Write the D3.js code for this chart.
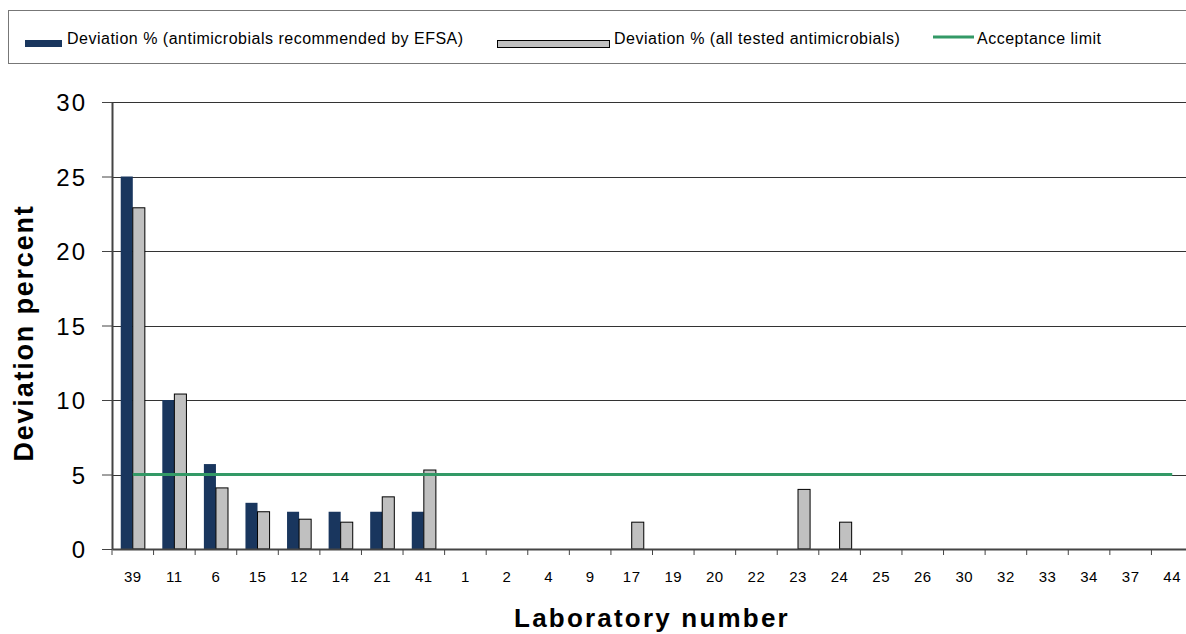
<!DOCTYPE html>
<html><head><meta charset="utf-8">
<script src="https://cdn.jsdelivr.net/npm/d3@7"></script>
<style>body{margin:0;background:#fff}svg{display:block;font-family:"Liberation Sans",Arial,sans-serif}</style>
</head><body><svg id="c" width="1186" height="634"></svg>
<script>
const labs = ["39","11","6","15","12","14","21","41","1","2","4","9","17","19","20","22","23","24","25","26","30","32","33","34","37","44"];
const efsa = [25,10,5.7,3.1,2.5,2.5,2.5,2.5,0,0,0,0,0,0,0,0,0,0,0,0,0,0,0,0,0,0];
const allTested = [22.9,10.4,4.1,2.5,2.0,1.8,3.5,5.3,0,0,0,0,1.8,0,0,0,4.0,1.8,0,0,0,0,0,0,0,0];
const limit = 5;
const yTicks = [0,5,10,15,20,25,30];
const seriesNames = ["Deviation % (antimicrobials recommended by EFSA)","Deviation % (all tested antimicrobials)","Acceptance limit"];
const colors = {efsa:"#19365e", all:"#c0c0c0", line:"#339966"};

const svg = d3.select("#c");
const L = 112, R = 1193, T = 102, B = 549;
const x = d3.scaleBand().domain(labs).range([L, R]).paddingInner(0).paddingOuter(0);
const y = d3.scaleLinear().domain([0,30]).range([B, T]);
const bw = x.bandwidth()*0.29;

// gridlines
svg.append("g").selectAll("line").data(yTicks.filter(d=>d>0)).join("line")
  .attr("x1", L).attr("x2", R).attr("y1", d=>Math.round(y(d))+0.5).attr("y2", d=>Math.round(y(d))+0.5)
  .attr("stroke", "#333").attr("stroke-width", 1);

// bars
const g = svg.append("g");
labs.forEach((lab,i)=>{
  const c = x(lab) + x.bandwidth()/2;
  if (efsa[i] > 0) g.append("rect").attr("x", c-bw).attr("width", bw)
    .attr("y", y(efsa[i])).attr("height", y(0)-y(efsa[i])).attr("fill", colors.efsa);
  if (allTested[i] > 0) g.append("rect").attr("x", c).attr("width", bw)
    .attr("y", y(allTested[i])).attr("height", y(0)-y(allTested[i])).attr("fill", colors.all)
    .attr("stroke", "#000").attr("stroke-width", 1);
});

// acceptance line
const line = d3.line().x(d=>x(d)+x.bandwidth()/2).y(()=>y(limit));
svg.append("path").datum([labs[0], labs[labs.length-1]]).attr("d", line)
  .attr("stroke", colors.line).attr("stroke-width", 3).attr("fill","none");

// axes
const yAxis = d3.axisLeft(y).tickValues(yTicks).tickSize(10).tickSizeOuter(0);
const ya = svg.append("g").attr("transform", `translate(${L},0)`).call(yAxis);
ya.select(".domain").attr("stroke","#444").attr("stroke-width",2);
ya.selectAll(".tick line").attr("stroke","#444");
ya.selectAll(".tick text").attr("font-size", 24).attr("fill","#000").attr("x",-25)
  .attr("letter-spacing", "2px").attr("dy","0.36em")
  .attr("font-family","Liberation Sans, Arial, sans-serif");

const xAxis = d3.axisBottom(x).tickSize(0).tickSizeOuter(0);
const xa = svg.append("g").attr("transform", `translate(0,${B})`).call(xAxis);
xa.select(".domain").attr("stroke","#444").attr("stroke-width",2);
xa.selectAll(".tick text").attr("font-size", 15).attr("fill","#000").attr("y", 0).attr("dy", "33")
  .attr("letter-spacing", "0.5px")
  .attr("font-family","Liberation Sans, Arial, sans-serif");
// boundary ticks between categories
svg.append("g").selectAll("line").data(labs).join("line")
  .attr("x1", d=>x(d)).attr("x2", d=>x(d)).attr("y1", B).attr("y2", B+6)
  .attr("stroke","#444").attr("stroke-width",1);

// titles
svg.append("text").attr("transform", `translate(33,${333}) rotate(-90)`)
  .attr("text-anchor","middle").attr("font-size",27).attr("font-weight","bold")
  .attr("letter-spacing","1.8px").text("Deviation percent");
svg.append("text").attr("x", 652).attr("y", 627).attr("text-anchor","middle")
  .attr("font-size",26).attr("font-weight","bold").attr("letter-spacing","2.2px").text("Laboratory number");

// legend
const lg = svg.append("g");
lg.append("rect").attr("x", 8.5).attr("y", 10.5).attr("width", 1200).attr("height", 53)
  .attr("fill","#fff").attr("stroke","#777").attr("stroke-width",1);
lg.append("rect").attr("x", 25).attr("y", 40).attr("width", 37).attr("height", 7).attr("fill", colors.efsa);
lg.append("text").attr("x", 67).attr("y", 44).attr("font-size",16).attr("letter-spacing","0.5px").text(seriesNames[0]);
lg.append("rect").attr("x", 497.5).attr("y", 40.5).attr("width", 112).attr("height", 7)
  .attr("fill", colors.all).attr("stroke","#000");
lg.append("text").attr("x", 614).attr("y", 44).attr("font-size",16).attr("letter-spacing","0.5px").text(seriesNames[1]);
lg.append("line").attr("x1", 933).attr("x2", 974).attr("y1", 37).attr("y2", 37)
  .attr("stroke", colors.line).attr("stroke-width", 3);
lg.append("text").attr("x", 977).attr("y", 44).attr("font-size",16).attr("letter-spacing","0.5px").text(seriesNames[2]);
</script></body></html>
